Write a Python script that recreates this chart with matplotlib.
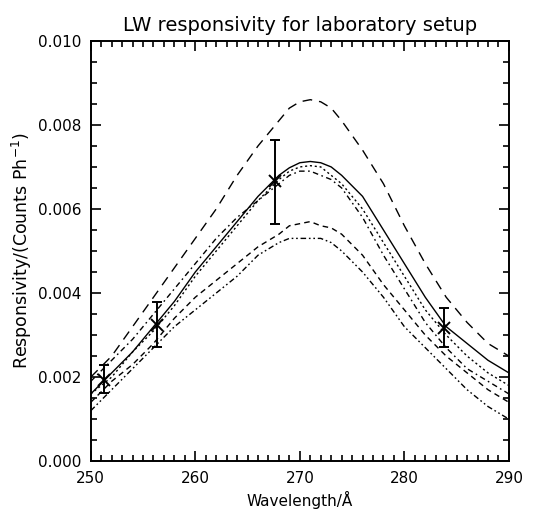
import numpy as np
import matplotlib
matplotlib.use("Agg")
import matplotlib.pyplot as plt
from matplotlib.ticker import MultipleLocator, FormatStrFormatter

# wavelength grid (Angstrom)
wavelength = [250, 252, 254, 256, 258, 260, 262, 264, 266, 268, 269, 270, 271,
              272, 273, 274, 276, 278, 280, 282, 284, 286, 288, 290]

# model responsivity curves (counts per photon)
resp_longdash = [0.0020, 0.0025, 0.0032, 0.0039, 0.0046, 0.0053, 0.0060, 0.0068, 0.0075, 0.0081, 0.0084, 0.00855, 0.0086,
                 0.00855, 0.0084, 0.0081, 0.0074, 0.0066, 0.0056, 0.0047, 0.0039, 0.0033, 0.0028, 0.0025]
resp_solid = [0.0016, 0.0021, 0.0026, 0.0032, 0.0038, 0.0045, 0.0051, 0.0057, 0.0063, 0.0068, 0.00698, 0.0071, 0.00713,
              0.0071, 0.0070, 0.0068, 0.0063, 0.0055, 0.0047, 0.0039, 0.0032, 0.0028, 0.0024, 0.0021]
resp_dotted = [0.0016, 0.0020, 0.0026, 0.0031, 0.0037, 0.0044, 0.0050, 0.0056, 0.0062, 0.0067, 0.0069, 0.0070, 0.00703,
               0.0070, 0.0068, 0.0066, 0.0060, 0.0052, 0.0044, 0.0036, 0.0030, 0.0025, 0.0021, 0.0018]
resp_dashdot = [0.0019, 0.0024, 0.0029, 0.0035, 0.0041, 0.0047, 0.0053, 0.0058, 0.0062, 0.0066, 0.0068, 0.0069, 0.0069,
                0.0068, 0.0067, 0.0065, 0.0058, 0.0049, 0.0041, 0.0033, 0.0027, 0.0022, 0.0019, 0.0016]
resp_dashed = [0.0014, 0.0019, 0.0023, 0.0028, 0.0034, 0.0039, 0.0043, 0.0047, 0.0051, 0.0054, 0.0056, 0.00565, 0.0057,
               0.0056, 0.00555, 0.0054, 0.0049, 0.0042, 0.0036, 0.0030, 0.0025, 0.0021, 0.0017, 0.0014]
resp_dashdotdot = [0.0012, 0.0017, 0.0022, 0.0027, 0.0032, 0.0036, 0.0040, 0.0044, 0.0049, 0.0052, 0.0053, 0.0053, 0.0053,
                   0.0053, 0.0052, 0.0050, 0.0045, 0.0039, 0.0032, 0.0027, 0.0022, 0.0017, 0.0013, 0.0010]

# measured points with error bars
meas_wl = [251.3, 256.3, 267.6, 283.8]
meas_resp = [0.00193, 0.00324, 0.00667, 0.00317]
meas_lo = [0.00162, 0.00271, 0.00564, 0.00271]
meas_hi = [0.00229, 0.00379, 0.00764, 0.00364]

fig = plt.figure(figsize=(5.34, 5.17), dpi=100)
ax = fig.add_axes([0.170, 0.108, 0.783, 0.813])

lw = 1.0
ax.plot(wavelength, resp_longdash, color="black", lw=lw, dashes=(7, 5))
ax.plot(wavelength, resp_solid, color="black", lw=lw)
ax.plot(wavelength, resp_dotted, color="black", lw=lw, dashes=(1.5, 2))
ax.plot(wavelength, resp_dashdot, color="black", lw=lw, dashes=(4, 2.5, 1.2, 2.5))
ax.plot(wavelength, resp_dashed, color="black", lw=lw, dashes=(4, 3))
ax.plot(wavelength, resp_dashdotdot, color="black", lw=lw, dashes=(4, 2, 1.2, 2, 1.2, 2))

yerr = [np.subtract(meas_resp, meas_lo), np.subtract(meas_hi, meas_resp)]
ax.errorbar(meas_wl, meas_resp, yerr=yerr, fmt="x", color="black",
            ms=8, mew=1.4, elinewidth=1.4, capsize=3.5, capthick=1.4)

ax.set_xlim(250, 290)
ax.set_ylim(0, 0.010)
ax.xaxis.set_major_locator(MultipleLocator(10))
ax.xaxis.set_minor_locator(MultipleLocator(1))
ax.yaxis.set_major_locator(MultipleLocator(0.002))
ax.yaxis.set_minor_locator(MultipleLocator(0.0005))
ax.yaxis.set_major_formatter(FormatStrFormatter("%.3f"))
ax.tick_params(which="both", direction="in", top=True, right=True, width=1.2)
ax.tick_params(which="major", length=7, labelsize=11, pad=7)
ax.tick_params(which="minor", length=4)
for s in ax.spines.values():
    s.set_linewidth(1.4)

ax.set_title("LW responsivity for laboratory setup", fontsize=14, pad=7)
ax.set_xlabel("Wavelength/Å", fontsize=11)
ax.set_ylabel("Responsivity/(Counts Ph$^{-1}$)", fontsize=12.5)
ax.yaxis.set_label_coords(-0.135, 0.5)

fig.savefig("out.png", dpi=100)
